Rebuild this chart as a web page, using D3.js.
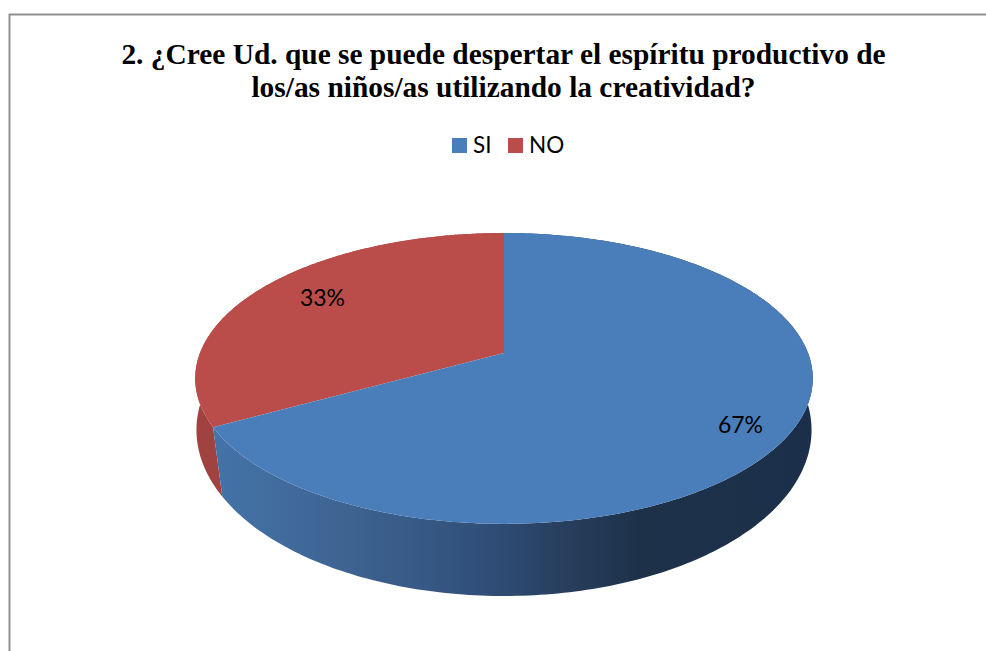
<!DOCTYPE html>
<html><head><meta charset="utf-8">
<script src="https://cdnjs.cloudflare.com/ajax/libs/d3/7.8.5/d3.min.js"></script>
<style>html,body{margin:0;padding:0;background:#fff}svg{display:block}</style>
</head><body><svg id="c" width="986" height="651"></svg>
<script>
const titleLines = ["2. ¿Cree Ud. que se puede despertar el espíritu productivo de", "los/as niños/as utilizando la creatividad?"];
const categories = ["SI", "NO"];
const values = [67, 33];
const labels = ["67%", "33%"];
const colors = ["#4a7ebb", "#ba4d4a"];
const sideColor = "#a04240";
const gradStops = [[0, "#4473a8"], [0.226, "#3e6391"], [0.443, "#30507a"], [0.577, "#283f5f"], [0.71, "#1d3249"], [1, "#1b2f4a"]];

const svg = d3.select("#c");
svg.append("rect").attr("width", 986).attr("height", 651).attr("fill", "#fff");
svg.append("path").attr("d", "M9.5,651V14.5H986").attr("fill", "none").attr("stroke", "#909090").attr("stroke-width", 2);

svg.selectAll("text.t").data(titleLines).join("text").attr("class", "t")
  .attr("x", 503.5).attr("y", (d, i) => 64 + i * 33).attr("text-anchor", "middle")
  .attr("font-family", "Liberation Serif").attr("font-weight", "bold").attr("font-size", 29.4).attr("fill", "#000").text(d => d);

function proj(p) {
  return (t) => {
    const u = Math.sin(t), v = -Math.cos(t), w = 1 + p.c * v;
    return [504 + p.k * u / w, (p.a * v + p.b) / w];
  };
}
const topP = proj({c: -0.175, a: 79.2, b: 353, k: 304});
const botP = proj({c: -0.1, a: 123, b: 413.4, k: 306});

const arcs = d3.pie().sort(null)(values);
const defs = svg.append("defs");
const g = defs.append("linearGradient").attr("id", "side").attr("gradientUnits", "userSpaceOnUse")
  .attr("x1", 215).attr("x2", 813).attr("y1", 0).attr("y2", 0);
g.selectAll("stop").data(gradStops).join("stop").attr("offset", d => d[0]).attr("stop-color", d => d[1]);

const line = d3.line();
const samples = a => d3.range(0, 241).map(i => a.startAngle + (a.endAngle - a.startAngle) * i / 240);

[1, 0].forEach(i => {
  const ts = samples(arcs[i]);
  svg.append("path").attr("d", line(ts.map(topP).concat(ts.slice().reverse().map(botP))) + "Z")
    .attr("fill", i === 0 ? "url(#side)" : sideColor);
});
[1, 0].forEach(i => {
  const ts = samples(arcs[i]);
  svg.append("path").attr("d", line([[504, 353]].concat(ts.map(topP))) + "Z").attr("fill", colors[i]);
});

const labelPos = [[740.5, 433], [322.5, 306]];
svg.selectAll("text.l").data(labels).join("text").attr("class", "l")
  .attr("x", (d, i) => labelPos[i][0]).attr("y", (d, i) => labelPos[i][1]).attr("text-anchor", "middle")
  .attr("font-family", "Lato").attr("font-size", 23).attr("fill", "#000").text(d => d);

const legX = [452, 508];
categories.forEach((c, i) => {
  svg.append("rect").attr("x", legX[i]).attr("y", 138).attr("width", 15).attr("height", 15).attr("fill", colors[i]);
  svg.append("text").attr("x", legX[i] + 21).attr("y", 153).attr("font-family", "Lato").attr("font-size", 22.5).attr("fill", "#000").text(c);
});
</script></body></html>
